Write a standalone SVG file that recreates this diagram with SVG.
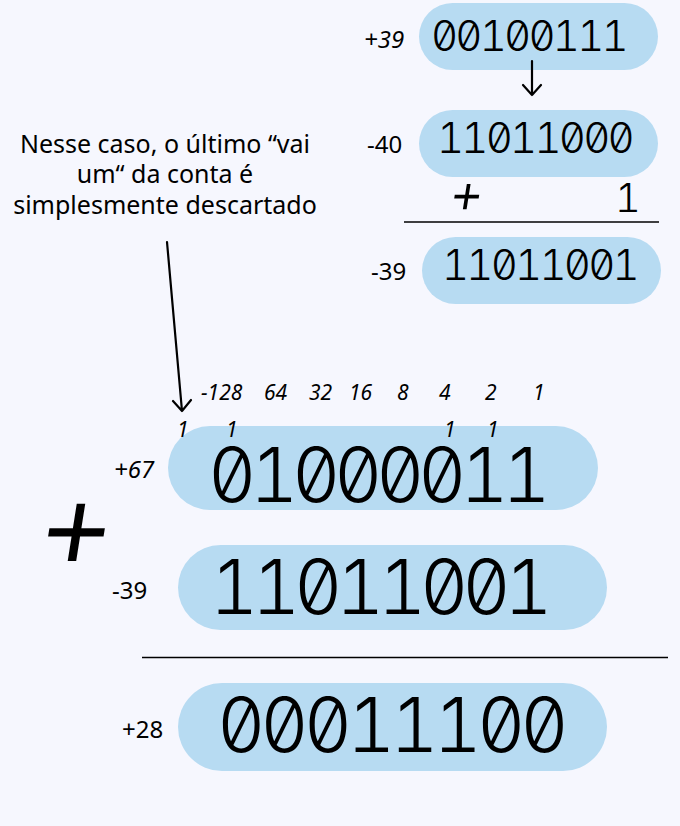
<svg xmlns="http://www.w3.org/2000/svg" width="680" height="826" viewBox="0 0 680 826">
<style>
.pill{fill:#b7dbf2}
.bin{font-family:Inter,"DejaVu Sans Mono",monospace;font-weight:300;font-feature-settings:"zero" 1,"tnum" 1;fill:#000}
.s{font-size:42px;letter-spacing:-2.8px}
.b{font-size:75px;letter-spacing:-6.5px}
.lab{font-family:"Noto Sans","Open Sans",sans-serif;font-size:24px;fill:#000}
.it{font-style:italic}
.w{font-family:"Noto Sans","Open Sans",sans-serif;font-size:21px;font-style:italic;fill:#000}
.note{font-family:"Noto Sans","Open Sans",sans-serif;font-size:25px;fill:#000;text-anchor:middle}
.rule{stroke:#000;stroke-width:1.5}
.arr{fill:none;stroke:#000;stroke-width:2.2;stroke-linecap:round;stroke-linejoin:round}
.plus{font-family:"Noto Sans","Open Sans",sans-serif;fill:#000;text-anchor:middle}
</style>
<rect width="680" height="826" fill="#f6f7fe"/>

<g id="top-pos39">
<rect class="pill" x="419" y="3" width="239" height="67" rx="33.5"/>
<text class="bin s" x="431" y="51">00100111</text>
<text class="lab it" x="364" y="48">+39</text>
</g>

<g id="top-neg40">
<rect class="pill" x="419" y="110" width="239" height="67" rx="33.5"/>
<text class="bin s" x="437" y="153">11011000</text>
<text class="lab" x="367" y="153">-40</text>
</g>

<g id="top-plus1">
<text class="plus" x="0" y="0" font-size="52" transform="translate(464 215) skewX(-9)">+</text>
<text class="bin" x="615" y="212" font-size="40">1</text>
<line class="rule" x1="404" y1="222" x2="659" y2="222"/>
</g>

<g id="top-neg39">
<rect class="pill" x="422" y="237" width="239" height="67" rx="33.5"/>
<text class="bin s" x="442" y="280">11011001</text>
<text class="lab" x="371" y="280">-39</text>
</g>

<g id="note">
<text class="note" x="165" y="153">Nesse caso, o último “vai</text>
<text class="note" x="165" y="183">um“ da conta é</text>
<text class="note" x="165" y="214">simplesmente descartado</text>
</g>

<g id="weights">
<text class="w" x="201" y="400">-128</text>
<text class="w" x="264" y="400">64</text>
<text class="w" x="309" y="400">32</text>
<text class="w" x="349" y="400">16</text>
<text class="w" x="397" y="400">8</text>
<text class="w" x="439" y="400">4</text>
<text class="w" x="485" y="400">2</text>
<text class="w" x="533" y="400">1</text>
</g>

<g id="sum-pos67">
<rect class="pill" x="168" y="426" width="430" height="84" rx="42"/>
<text class="bin b" x="208" y="502">01000011</text>
<text class="lab it" x="114" y="478">+67</text>
</g>

<g id="carries">
<text class="w" x="177" y="437">1</text>
<text class="w" x="226" y="437">1</text>
<text class="w" x="444" y="437">1</text>
<text class="w" x="487" y="437">1</text>
</g>

<g id="big-plus">
<text class="plus" x="0" y="0" font-size="118" transform="translate(70 574) skewX(-9)">+</text>
</g>

<g id="sum-neg39">
<rect class="pill" x="178" y="545" width="429" height="85" rx="42.5"/>
<text class="bin b" x="210" y="614">11011001</text>
<text class="lab" x="112" y="599">-39</text>
</g>

<g id="sum-rule">
<line class="rule" x1="142" y1="657.5" x2="668" y2="657.5"/>
</g>

<g id="sum-pos28">
<rect class="pill" x="178" y="683" width="429" height="88" rx="44"/>
<text class="bin b" x="217" y="752" style="letter-spacing:-5.2px">00011100</text>
<text class="lab" x="122" y="738">+28</text>
</g>

<g id="connectors">
<path class="arr" d="M532 61 V95 M523 85 L532 95 L541 85"/>
<path class="arr" d="M167 242 L182 411 M173 401 L182 411 L191 400"/>
</g>
</svg>
